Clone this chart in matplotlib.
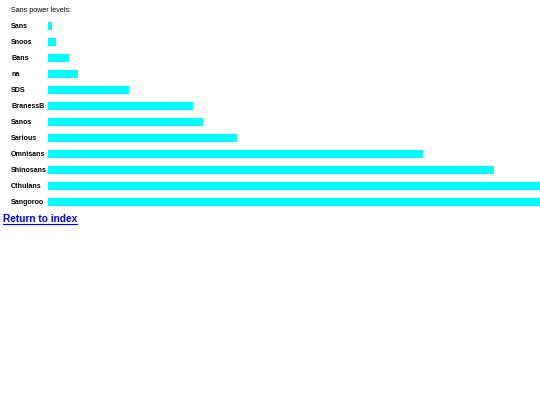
import matplotlib.pyplot as plt

# sans power levels (bar widths, px-ish units)
names = ["Sans", "Snoos", "Bans", "na", "SDS", "BranessB", "Sanos",
         "Sarious", "Omnisans", "Shinosans", "Cthulans", "Sangoroo"]
levels = [4, 8, 21, 30, 81, 145, 155, 189, 375, 446, 700, 900]

W, H = 540, 405
fig = plt.figure(figsize=(W / 100, H / 100), dpi=100)

# axes area in pixel terms: x 48..540, y 18..210 (from top)
ax = fig.add_axes([48 / W, 1 - 210 / H, 492 / W, 192 / H])
ax.barh(range(len(names)), levels, height=0.56, color="#00ffff")
ax.set_xlim(0, 492)
ax.set_ylim(len(names) - 0.5, -0.5)

ax.set_yticks(range(len(names)))
ax.set_yticklabels(names, ha="left", fontsize=5.1, fontweight="bold",
                   family="Liberation Sans")
ax.tick_params(axis="y", length=0, pad=37 * 0.72)
ax.set_xticks([])
for s in ax.spines.values():
    s.set_visible(False)

fig.text(11 / W, 1 - 10 / H, "Sans power levels:", fontsize=5.1,
         va="center", ha="left", family="Liberation Sans")

fig.text(3 / W, 1 - 222 / H, "Return to index", fontsize=7.3,
         fontweight="bold", color="#0000ee", va="baseline", ha="left",
         family="Liberation Sans")
# underline
fig.add_artist(plt.Line2D([3 / W, 77 / W], [1 - 223.8 / H, 1 - 223.8 / H],
                          color="#0000ee", lw=0.8))

fig.savefig("out.png", dpi=100)
